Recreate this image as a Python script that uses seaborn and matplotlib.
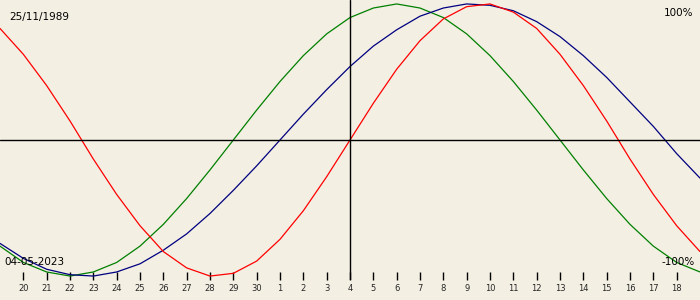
import matplotlib
matplotlib.use("Agg")
import matplotlib.pyplot as plt
import seaborn as sns
import pandas as pd

# Days relative to 04-05-2023 (biorhythm window)
day_offsets = list(range(-15, 16))
tick_days = list(range(-14, 15))
tick_labels = ["20", "21", "22", "23", "24", "25", "26", "27", "28", "29", "30",
               "1", "2", "3", "4", "5", "6", "7", "8", "9", "10", "11", "12",
               "13", "14", "15", "16", "17", "18"]

# Values in percent at each day
physical = [82, 63, 40, 14, -14, -40, -63, -82, -94, -100, -98, -89, -73, -52, -27,
            0, 27, 52, 73, 89, 98, 100, 94, 82, 63, 40, 14, -14, -40, -63, -82]
emotional = [-78, -90, -97, -100, -97, -90, -78, -62, -43, -22, 0, 22, 43, 62, 78,
             90, 97, 100, 97, 90, 78, 62, 43, 22, 0, -22, -43, -62, -78, -90, -97]
intellectual = [-76, -87, -95, -99, -100, -97, -91, -81, -69, -54, -37, -19, 0, 19, 37,
                54, 69, 81, 91, 97, 100, 99, 95, 87, 76, 62, 46, 28, 10, -10, -28]

birth_label = "25/11/1989"
date_label = "04-05-2023"
top_label = "100%"
bottom_label = "-100%"

bg = "#F3EFE3"
sns.set_theme(style="white")
plt.rcParams['font.family'] = ['DejaVu Sans']

fig = plt.figure(figsize=(7, 3), dpi=100, facecolor=bg)
ax = fig.add_axes([0, 20 / 300, 1, 280 / 300])
ax.set_facecolor(bg)

df = pd.DataFrame({"day": day_offsets, "physical": physical,
                   "emotional": emotional, "intellectual": intellectual})

sns.lineplot(data=df, x="day", y="emotional", ax=ax, color="#008000", lw=0.9)
sns.lineplot(data=df, x="day", y="intellectual", ax=ax, color="#000080", lw=0.9)
sns.lineplot(data=df, x="day", y="physical", ax=ax, color="#FF0000", lw=0.9)

ax.axhline(0, color="black", lw=1)
ax.axvline(0, color="black", lw=1)

ax.set_xlim(-15, 15)
ax.set_ylim(-102.9, 102.9)
for s in ax.spines.values():
    s.set_visible(False)
ax.set_xlabel("")
ax.set_ylabel("")
ax.set_yticks([])
ax.set_xticks(tick_days)
ax.set_xticklabels(tick_labels)
ax.tick_params(axis="x", direction="in", length=6, width=1, color="black",
               labelsize=6, pad=3, bottom=True)

ax.text(0.013, 0.939, birth_label, transform=ax.transAxes, fontsize=7.5,
        ha="left", va="center", color="black")
ax.text(0.99, 0.955, top_label, transform=ax.transAxes, fontsize=7.5,
        ha="right", va="center", color="black")
ax.text(0.006, 0.064, date_label, transform=ax.transAxes, fontsize=7.5,
        ha="left", va="center", color="black")
ax.text(0.992, 0.064, bottom_label, transform=ax.transAxes, fontsize=7.5,
        ha="right", va="center", color="black")

fig.savefig("out.png", dpi=100, facecolor=bg)
